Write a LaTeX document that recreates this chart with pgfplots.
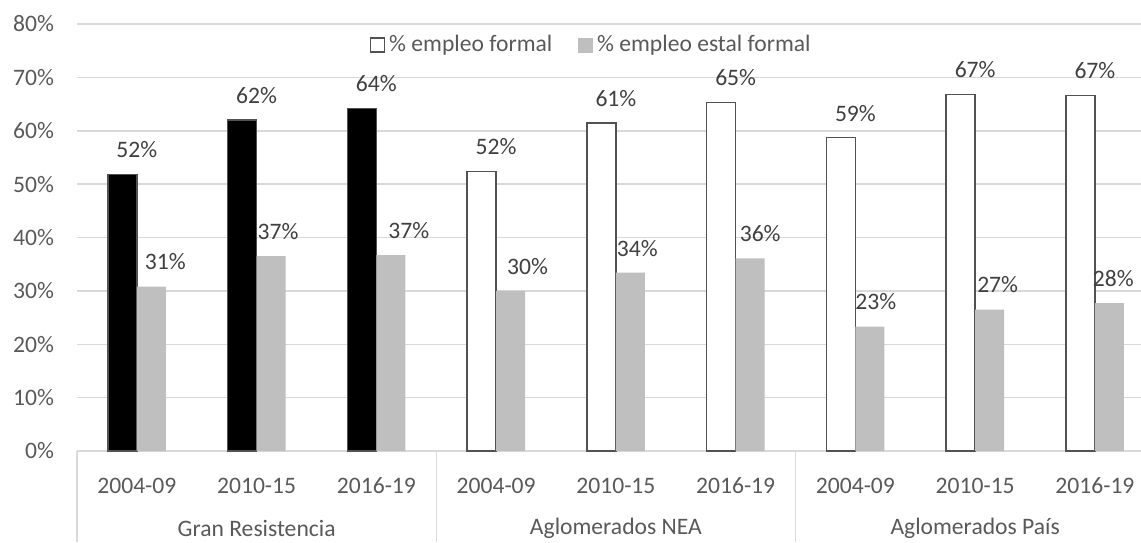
\documentclass[border=0pt]{standalone}
\usepackage{pgfplots}
\pgfplotsset{compat=1.18}
\usepackage{fontspec}
\setmainfont{Carlito}
\definecolor{gridc}{HTML}{D9D9D9}
\definecolor{barg}{HTML}{BFBFBF}
\definecolor{outl}{HTML}{525252}
\definecolor{tickc}{HTML}{595959}
\definecolor{labc}{HTML}{404040}
\newcommand\cf{\fontsize{11.8pt}{14pt}\selectfont}
\begin{document}
\begin{tikzpicture}
\useasboundingbox (0,0) rectangle (570.5pt,271pt);
\clip (0,0) rectangle (570.5pt,271pt);
\begin{axis}[
  at={(38.5pt,45.5pt)}, anchor=south west,
  scale only axis, width=538.9pt, height=213.5pt,
  xmin=-0.5, xmax=8.5, ymin=0, ymax=80,
  clip=false,
  axis line style={draw=none},
  ytick={0,10,...,80},
  yticklabels={0\%,10\%,20\%,30\%,40\%,50\%,60\%,70\%,80\%},
  ymajorgrids, grid style={gridc, line width=0.75pt},
  major tick length=0pt,
  xtick pos=left, ytick pos=left,
  xtick={0,...,8},
  xticklabels={2004-09,2010-15,2016-19,2004-09,2010-15,2016-19,2004-09,2010-15,2016-19},
  /pgf/number format/assume math mode=true,
  tick label style={font=\cf, text=tickc},
  yticklabel style={anchor=east, xshift=-8pt},
  xticklabel style={anchor=center, yshift=-17.5pt},
  extra x ticks={-0.5,2.5,5.5},
  extra x tick labels={},
  extra x tick style={major tick length=45.5pt, tick align=outside, xmajorgrids=false,
    xtick pos=left, tick style={draw=gridc, line width=0.75pt}},
  legend columns=2,
  legend style={draw=none, fill=none, at={(0.478,0.951)}, anchor=center, font=\cf, text=tickc,
    /tikz/every even column/.append style={column sep=11pt}},
  nodes near coords style={font=\cf, text=labc, anchor=center, yshift=12.3pt},
]
\addlegendimage{legend image code/.code={\draw[fill=white, draw=outl, line width=0.75pt] (0pt,-3.5pt) rectangle (7pt,3.5pt);}}
\addlegendentry{\% empleo formal}
\addlegendimage{legend image code/.code={\fill[barg] (0pt,-3.5pt) rectangle (7pt,3.5pt);}}
\addlegendentry{\% empleo estal formal}

\addplot[ybar, bar width=0.242, bar shift=-0.121, fill=black, draw=outl, line width=0.75pt,
  nodes near coords, point meta=explicit symbolic, forget plot]
  coordinates {(0,51.8)[52\%] (1,62.0)[62\%] (2,64.2)[64\%]};
\addplot[ybar, bar width=0.242, bar shift=-0.121, fill=white, draw=outl, line width=0.75pt,
  nodes near coords, point meta=explicit symbolic, forget plot]
  coordinates {(3,52.4)[52\%] (4,61.5)[61\%] (5,65.3)[65\%] (6,58.7)[59\%] (7,66.8)[67\%] (8,66.6)[67\%]};
\addplot[ybar, bar width=0.242, bar shift=0.121, fill=barg, draw=none, forget plot]
  coordinates {(0,30.8) (1,36.5) (2,36.7) (3,30.0) (4,33.4) (5,36.1) (6,23.3) (7,26.5) (8,27.7)};
\addplot[draw=none, mark=none, nodes near coords, point meta=explicit symbolic, forget plot]
  coordinates {(0.238,30.8)[31\%] (1.179,36.5)[37\%] (2.271,36.7)[37\%] (3.263,30.0)[30\%]
    (4.179,33.4)[34\%] (5.205,36.1)[36\%] (6.171,23.3)[23\%] (7.188,26.5)[27\%] (8.154,27.7)[28\%]};

\node[font=\cf, text=tickc, anchor=center] at (axis cs:1,0) [yshift=-38.5pt] {Gran Resistencia};
\node[font=\cf, text=tickc, anchor=center] at (axis cs:4,0) [yshift=-38.5pt] {Aglomerados NEA};
\node[font=\cf, text=tickc, anchor=center] at (axis cs:7,0) [yshift=-38.5pt] {Aglomerados País};
\end{axis}
\end{tikzpicture}
\end{document}
